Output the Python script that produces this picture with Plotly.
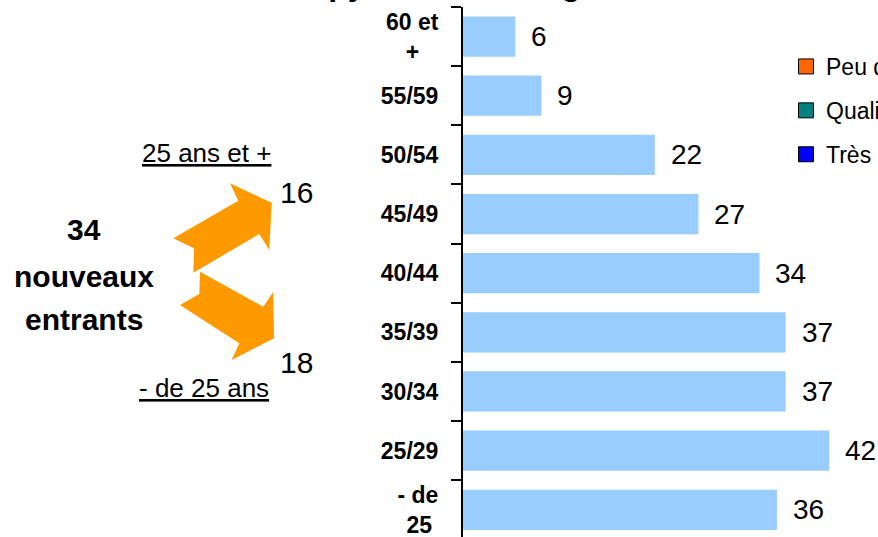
import plotly.graph_objects as go

# ---------------- data ----------------
age_groups = ["- de 25", "25/29", "30/34", "35/39", "40/44", "45/49", "50/54", "55/59", "60 et +"]
effectifs = [36, 42, 37, 37, 34, 27, 22, 9, 6]
tick_labels = ["- de<br>25\u00a0", "25/29", "30/34", "35/39", "40/44",
               "45/49", "50/54", "55/59", "60 et<br>+\u00a0\u00a0\u00a0"]

legend_names = ["Peu qualifiés", "Qualifiés", "Très qualifiés"]
legend_colors = ["#FF6600", "#008080", "#0000FF"]

title_text = "La pyramide des âges"
total_entrants = 34
entrants_25_plus = 16
entrants_moins_25 = 18

# ---------------- geometry ----------------
W, H = 878, 537
ML, MR, MT, MB = 463, 0, 7, 0
PW, PH = W - ML - MR, H - MT - MB
X_MAX = PW / 8.72
Y_RANGE = [-0.46, len(age_groups) - 0.5]


def px2paper(px, py):
    return (px - ML) / PW, (H - MB - py) / PH


fig = go.Figure()

fig.add_trace(go.Bar(
    x=effectifs, y=age_groups, orientation="h",
    marker=dict(color="#99CCFF", line=dict(width=0)),
    width=0.68, showlegend=False, hoverinfo="skip",
))

for i, (name, col) in enumerate(zip(legend_names, legend_colors)):
    fig.add_trace(go.Scatter(
        x=[None], y=[None], mode="markers", name=name, legendgroup=f"g{i}",
        marker=dict(symbol="square", size=15, color=col,
                    line=dict(color="black", width=1)),
    ))

annotations = []
# value labels
for cat, v in zip(age_groups, effectifs):
    annotations.append(dict(
        x=v, y=cat, xref="x", yref="y", text=str(v), showarrow=False,
        xanchor="left", yanchor="middle", xshift=14,
        font=dict(family="Liberation Sans, Arial", size=28, color="black"),
    ))


def ann(text, px, py, size, bold=False, xanchor="center", yanchor="middle"):
    xp, yp = px2paper(px, py)
    annotations.append(dict(
        x=xp, y=yp, xref="paper", yref="paper",
        text=f"<b>{text}</b>" if bold else text, showarrow=False,
        xanchor=xanchor, yanchor=yanchor,
        font=dict(family="Liberation Sans, Arial", size=size, color="black"),
    ))


ann(title_text, 449, 4, 32, bold=True, yanchor="bottom")
ann(str(total_entrants), 83.5, 229, 30, bold=True)
ann("nouveaux", 83.5, 276, 30, bold=True)
ann("entrants", 83.5, 319, 30, bold=True)
ann("<u>25 ans et +</u>", 206, 153, 26)
ann("<u>- de 25 ans</u>", 203.5, 388, 26)
ann(str(entrants_25_plus), 296.7, 192.5, 30)
ann(str(entrants_moins_25), 296.7, 362.5, 30)

# block arrows (decoration)
arrow_up = [(173.3, 238.3), (238.3, 200.7), (230, 183.3), (271.7, 202.7),
            (269.3, 250), (259.3, 234), (193.3, 272.7), (194, 248.3)]
arrow_down = [(200, 271.7), (263.3, 306.7), (273.3, 291.7), (274, 338.3),
              (231.7, 360), (239.3, 343.3), (180, 305), (199.3, 294)]
shapes = []
for poly in (arrow_up, arrow_down):
    pts = [px2paper(a, b) for a, b in poly]
    path = "M " + " L ".join(f"{a:.5f},{b:.5f}" for a, b in pts) + " Z"
    shapes.append(dict(type="path", xref="paper", yref="paper", path=path,
                       fillcolor="#FF9900", line=dict(width=0), layer="above"))

fig.update_layout(
    width=W, height=H,
    margin=dict(l=ML, r=MR, t=MT, b=MB, autoexpand=False),
    paper_bgcolor="white", plot_bgcolor="white",
    barmode="overlay",
    showlegend=True,
    legend=dict(
        x=786 / W, xref="container", xanchor="left",
        y=1 - 45 / H, yref="container", yanchor="top",
        font=dict(family="Liberation Sans, Arial", size=23, color="black"),
        tracegroupgap=11, bgcolor="rgba(0,0,0,0)",
    ),
    xaxis=dict(range=[0, X_MAX], visible=False, fixedrange=True),
    yaxis=dict(
        type="category", range=Y_RANGE,
        tickmode="array", tickvals=age_groups, ticktext=tick_labels,
        tickson="boundaries", ticks="outside", ticklen=10, tickwidth=2,
        tickcolor="black", showline=True, linecolor="black", linewidth=2,
        showgrid=False, zeroline=False, ticklabelstandoff=18,
        tickfont=dict(family="Liberation Sans, Arial", size=23, color="black", weight="bold"),
    ),
    yaxis2=dict(
        overlaying="y", anchor="x", side="left", range=Y_RANGE,
        tickmode="array", tickvals=[i + 0.5 for i in range(len(age_groups))],
        ticks="inside", ticklen=7, tickwidth=2, tickcolor="black",
        showticklabels=False, showline=False, showgrid=False, zeroline=False,
    ),
    annotations=annotations,
    shapes=shapes,
)

fig.write_html("out.html", config={"displayModeBar": False},
               post_script="document.body.style.margin='0px';")
